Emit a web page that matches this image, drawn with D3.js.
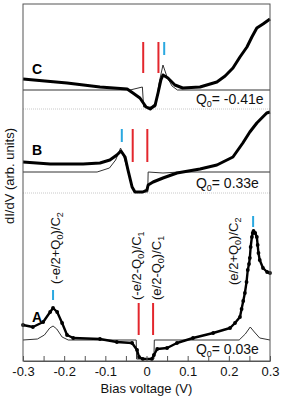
<!DOCTYPE html>
<html>
<head>
<meta charset="utf-8">
<script src="https://cdn.jsdelivr.net/npm/d3@7/dist/d3.min.js"></script>
<style>
  body { margin: 0; background: #fff; }
  svg { display: block; font-family: "Liberation Sans", Arial, sans-serif; }
</style>
</head>
<body>
<svg id="chart" width="284" height="401"></svg>
<script>
'use strict';

/* measured traces: [bias (V), dI/dV above the trace's own zero] */
var traceA = [[-0.300,0.34],[-0.276,0.32],[-0.251,0.37],[-0.234,0.47],[-0.227,0.51],[-0.217,0.47],
  [-0.205,0.36],[-0.193,0.24],[-0.178,0.21],[-0.113,0.20],[-0.072,0.17],[-0.035,0.16],[-0.023,0.09],
  [-0.018,0.02],[-0.009,0.00],[0.013,0.00],[0.018,0.04],[0.026,0.10],[0.050,0.11],[0.074,0.16],
  [0.113,0.21],[0.162,0.26],[0.203,0.31],[0.215,0.36],[0.227,0.42],[0.231,0.50],[0.235,0.58],
  [0.239,0.66],[0.243,0.77],[0.246,0.89],[0.249,0.95],[0.251,1.01],[0.253,1.12],[0.256,1.22],
  [0.258,1.26],[0.260,1.28],[0.264,1.26],[0.268,1.22],[0.270,1.14],[0.272,1.06],[0.275,0.99],
  [0.283,0.91],[0.293,0.87],[0.300,0.86]];
var traceB = [[-0.300,0.31],[-0.234,0.29],[-0.154,0.29],[-0.113,0.30],[-0.089,0.33],[-0.072,0.38],
  [-0.062,0.42],[-0.052,0.36],[-0.045,0.23],[-0.035,0.06],[-0.028,0.01],[-0.009,0.01],[0.001,0.03],
  [0.004,0.08],[0.016,0.11],[0.040,0.15],[0.074,0.20],[0.130,0.24],[0.171,0.28],[0.210,0.36],
  [0.234,0.50],[0.251,0.61],[0.268,0.70],[0.292,0.80],[0.300,0.81]];
var traceC = [[-0.300,0.30],[-0.247,0.28],[-0.193,0.26],[-0.113,0.22],[-0.047,0.20],[-0.033,0.16],
  [-0.016,0.11],[-0.001,0.02],[0.009,0.00],[0.021,0.04],[0.028,0.16],[0.035,0.29],[0.040,0.34],
  [0.052,0.31],[0.069,0.24],[0.088,0.21],[0.130,0.22],[0.171,0.27],[0.191,0.33],[0.210,0.41],
  [0.227,0.52],[0.244,0.62],[0.256,0.72],[0.268,0.81],[0.283,0.85],[0.300,0.90]];

/* simulated curves */
var modelA = [[-0.300,0.19],[-0.265,0.20],[-0.248,0.24],[-0.235,0.31],[-0.227,0.33],[-0.218,0.30],
  [-0.205,0.22],[-0.190,0.19],[-0.025,0.19],[-0.024,0.00],[0.018,0.00],[0.019,0.19],[0.225,0.19],
  [0.240,0.25],[0.252,0.32],[0.262,0.27],[0.275,0.21],[0.300,0.19]];
var modelB = [[-0.300,0.21],[-0.120,0.21],[-0.090,0.25],[-0.075,0.33],[-0.063,0.45],[-0.055,0.36],
  [-0.045,0.22],[-0.035,0.06],[-0.030,0.01],[0.003,0.01],[0.004,0.21],[0.040,0.20],[0.080,0.21],
  [0.300,0.21]];
var modelC = [[-0.300,0.19],[-0.040,0.19],[-0.010,0.22],[-0.007,0.02],[0.022,0.02],[0.030,0.25],
  [0.040,0.44],[0.050,0.32],[0.062,0.23],[0.075,0.19],[0.300,0.19]];

/* vertical offsets of the three traces (arb. units) */
var panels = ['A', 'B', 'C'];
var offsets = [0.02, 1.68, 2.52];
var q0Labels = ['0.03e', '0.33e', '-0.41e'];

/* marker bars: [bias, y from, y to] */
var redMarks = [[-0.019,0.26,0.58],[0.016,0.26,0.58],[-0.0335,1.99,2.32],[0.002,1.99,2.32],
  [-0.008,2.88,3.19],[0.029,2.88,3.19]];
var blueMarks = [[-0.227,0.61,0.71],[0.259,1.34,1.45],[-0.060,2.19,2.32],[0.043,3.06,3.19]];

/* energy annotations: [text, sub, tail, sub, bias, y] */
var notes = [['(-e/2+Q', '0', ')/C', '2', -0.210, 0.77],
  ['(-e/2-Q', '0', ')/C', '1', -0.013, 0.61],
  ['(e/2-Q', '0', ')/C', '1', 0.035, 0.61],
  ['(e/2+Q', '0', ')/C', '2', 0.222, 0.76]];

var tickVals = d3.range(-6, 7).map(function (i) { return i * 0.05; });

var svg = d3.select('#chart');
var x = d3.scaleLinear().domain([-0.3, 0.3]).range([23, 270]),
    y = d3.scaleLinear().domain([0, 3.57]).range([361, 4]);

var traces = [traceA, traceB, traceC],
    models = [modelA, modelB, modelC];

/* dotted zero lines */
[1, 2].forEach(function (i) {
  svg.append('line')
    .attr('x1', x(-0.3)).attr('x2', x(0.3))
    .attr('y1', y(offsets[i])).attr('y2', y(offsets[i]))
    .attr('stroke', '#c8c8c8').attr('stroke-dasharray', '1,1');
});

function lineFor(off) {
  return d3.line()
    .x(function (d) { return x(d[0]); })
    .y(function (d) { return y(d[1] + off); });
}

/* model curves (thin) */
models.forEach(function (m, i) {
  svg.append('path').datum(m)
    .attr('d', lineFor(offsets[i]))
    .attr('fill', 'none').attr('stroke', '#333').attr('stroke-width', 1);
});

/* measured curves (thick) */
traces.forEach(function (t, i) {
  svg.append('path').datum(t)
    .attr('d', lineFor(offsets[i]))
    .attr('fill', 'none').attr('stroke', '#000')
    .attr('stroke-width', i === 0 ? 2.4 : 3)
    .attr('stroke-linejoin', 'round');
});
svg.append('g').selectAll('circle').data(traceA).enter().append('circle')
  .attr('cx', function (d) { return x(d[0]); })
  .attr('cy', function (d) { return y(d[1] + offsets[0]); })
  .attr('r', 1.9).attr('fill', '#000');

/* marker bars */
function bars(data, colour) {
  svg.append('g').selectAll('line').data(data).enter().append('line')
    .attr('x1', function (d) { return x(d[0]); })
    .attr('x2', function (d) { return x(d[0]); })
    .attr('y1', function (d) { return y(d[1]); })
    .attr('y2', function (d) { return y(d[2]); })
    .attr('stroke', colour).attr('stroke-width', 2);
}
bars(redMarks, '#e3262d');
bars(blueMarks, '#2aa8e0');

/* panel letters and Q0 labels */
panels.forEach(function (p, i) {
  var base = [0.37, 0.38, 0.35][i];
  svg.append('text')
    .attr('x', x(-0.278)).attr('y', y(offsets[i] + base))
    .attr('font-size', 14).attr('font-weight', 'bold').text(p);
  var t = svg.append('text')
    .attr('x', x(0.12)).attr('y', y(offsets[i] + 0.05))
    .attr('font-size', 14).attr('fill', '#111');
  t.append('tspan').text('Q');
  t.append('tspan').attr('dy', 3).attr('font-size', 9).text('0');
  t.append('tspan').attr('dy', -3).text('= ' + q0Labels[i]);
});

/* rotated annotations */
notes.forEach(function (n) {
  var t = svg.append('text')
    .attr('transform', 'translate(' + x(n[4]) + ',' + y(n[5]) + ') rotate(-90)')
    .attr('font-size', 13).attr('fill', '#111');
  t.append('tspan').text(n[0]);
  t.append('tspan').attr('dy', 3).attr('font-size', 9).text(n[1]);
  t.append('tspan').attr('dy', -3).text(n[2]);
  t.append('tspan').attr('dy', 3).attr('font-size', 9).text(n[3]);
});

/* frame and axis */
svg.append('rect')
  .attr('x', x(-0.3)).attr('y', y(3.57))
  .attr('width', x(0.3) - x(-0.3)).attr('height', y(0) - y(3.57))
  .attr('fill', 'none').attr('stroke', '#555');

var ax = svg.append('g')
  .attr('transform', 'translate(0,' + y(0) + ')')
  .call(d3.axisBottom(x).tickValues(tickVals).tickSizeInner(-5).tickSizeOuter(0).tickPadding(6)
    .tickFormat(function (d, i) { return i % 2 ? '' : String(Math.round(d * 10) / 10); }));
ax.select('.domain').attr('stroke', '#555');
ax.selectAll('.tick line').attr('stroke', '#555');
ax.selectAll('.tick text').attr('font-size', 13).attr('fill', '#111')
  .attr('font-family', '"Liberation Sans", Arial, sans-serif');

svg.append('text')
  .attr('x', x(0)).attr('y', 393)
  .attr('text-anchor', 'middle').attr('font-size', 13).attr('fill', '#111')
  .text('Bias voltage (V)');

svg.append('text')
  .attr('transform', 'translate(14,176) rotate(-90)')
  .attr('text-anchor', 'middle').attr('font-size', 13).attr('fill', '#111')
  .text('dI/dV (arb. units)');
</script>
</body>
</html>
